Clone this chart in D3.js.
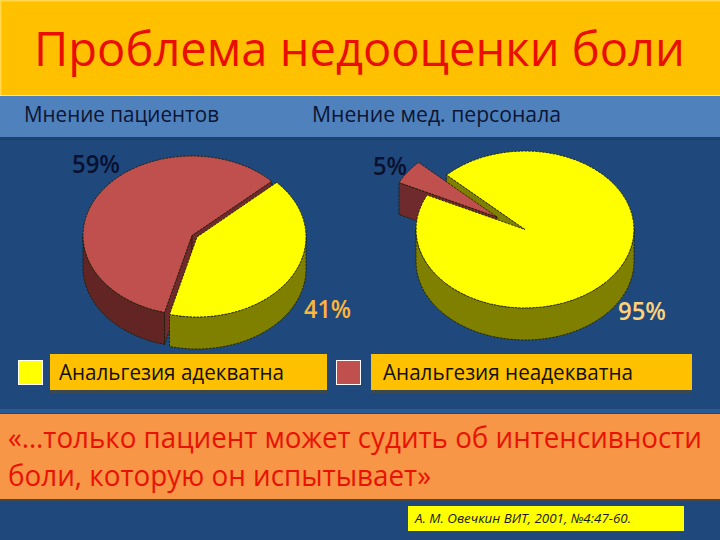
<!DOCTYPE html>
<html><head><meta charset="utf-8">
<script src="https://cdn.jsdelivr.net/npm/d3@7"></script>
<style>html,body{margin:0;padding:0;background:#1f497d}svg{display:block}text{font-family:"Open Sans",Lato,sans-serif}</style>
</head><body><svg id="c" width="720" height="540"></svg>
<script>
const title = "Проблема недооценки боли";
const groups = ["Мнение пациентов", "Мнение мед. персонала"];
const categories = ["Анальгезия адекватна", "Анальгезия неадекватна"];
const patients = [41, 59];
const staff = [95, 5];
const quoteLines = ["«…только пациент может судить об интенсивности", "боли, которую он испытывает»"];
const source = "А. М. Овечкин  ВИТ, 2001, №4:47-60.";

const topColor = d3.scaleOrdinal().domain(categories).range(["#ffff00", "#c0504d"]);
const sideColor = d3.scaleOrdinal().domain(categories).range(["#808000", "#632523"]);
const faceColor = d3.scaleOrdinal().domain(categories).range(["#808000", "#6e2a2c"]);

const svg = d3.select("#c");
const rect = (x, y, w, h, fill) => svg.append("rect").attr("x", x).attr("y", y).attr("width", w).attr("height", h).attr("fill", fill);
const text = (s, x, y, size, fill, extra = {}) => {
  const t = svg.append("text").attr("x", x).attr("y", y).attr("font-size", size).attr("fill", fill).text(s);
  Object.entries(extra).forEach(([k, v]) => t.attr(k, v));
  return t;
};
const fit = (w) => ({ textLength: w, lengthAdjust: "spacingAndGlyphs" });

rect(0, 0, 720, 540, "#1f497d");
rect(0, 0, 720, 96, "#ffc000");
rect(0, 0, 720, 1.5, "#ffd84d");
rect(0, 0, 1.5, 96, "#ffd84d");
rect(0, 95, 720, 1.5, "#ffe680");
rect(0, 96, 720, 41, "#4f81bd");
rect(0, 137, 720, 3, "#1c4272");

text(title, 34, 66, 48, "#e90e00", fit(651));
text(groups[0], 24, 122, 21, "#0b1533", fit(195));
text(groups[1], 312, 122, 21, "#0b1533", fit(249));

const depth = 32, rx = 109;
const pie = (start) => d3.pie().sort(null).startAngle(start).endAngle(start + 2 * Math.PI);
const line = d3.line();
const stroke = { c: "#1a1a00", w: 0.8, d: "2.5 1" };

function drawPie(values, startDeg, geom, order) {
  const arcs = pie(startDeg * Math.PI / 180)(values);
  const at = (i, a, dy = 0) => {
    const g = geom[i];
    return [g.cx + rx * Math.sin(a), g.cy + dy - g.ry * Math.cos(a)];
  };
  const samples = (a0, a1) => d3.range(0, 61).map(k => a0 + (a1 - a0) * k / 60);
  const paint = (d, fill, outlined = true) => {
    const p = svg.append("path").attr("d", d).attr("fill", fill);
    if (outlined) p.attr("stroke", stroke.c).attr("stroke-width", stroke.w).attr("stroke-dasharray", stroke.d);
    return p;
  };
  const wall = (i) => {
    const s = arcs[i], name = categories[i];
    const norm = 2 * Math.PI;
    for (const shift of [-norm, 0, norm]) {
      const a0 = Math.max(s.startAngle, Math.PI / 2 + shift);
      const a1 = Math.min(s.endAngle, 3 * Math.PI / 2 + shift);
      if (a1 > a0) {
        const up = samples(a0, a1).map(a => at(i, a));
        const dn = samples(a0, a1).reverse().map(a => at(i, a, depth));
        paint(line([...up, ...dn]) + "Z", sideColor(name));
      }
    }
  };
  const face = (i, a) => {
    const g = geom[i];
    paint(line([[g.cx, g.cy], at(i, a), at(i, a, depth), [g.cx, g.cy + depth]]) + "Z", faceColor(categories[i]));
  };
  const top = (i) => {
    const g = geom[i], s = arcs[i];
    paint(line([[g.cx, g.cy], ...samples(s.startAngle, s.endAngle).map(a => at(i, a))]) + "Z", topColor(categories[i]));
  };
  order({ wall, face, top, arcs });
}

drawPie(patients, 47, [{ cx: 197, cy: 237, ry: 80 }, { cx: 192, cy: 235.5, ry: 79.5 }], ({ wall, face, top, arcs }) => {
  wall(1);
  face(1, arcs[1].startAngle);
  face(1, arcs[1].endAngle);
  top(1);
  wall(0);
  top(0);
});

drawPie(staff, 314, [{ cx: 525, cy: 229.5, ry: 78.5 }, { cx: 497, cy: 217, ry: 78.5 }], ({ wall, face, top, arcs }) => {
  wall(0);
  face(0, arcs[0].startAngle);
  face(1, arcs[1].startAngle);
  top(1);
  top(0);
});

const pct = v => v + "%";
const bold = { "font-weight": 600 };
text(pct(patients[1]), 72, 173, 25, "#0a1030", { ...bold, ...fit(48) });
text(pct(staff[1]), 373, 175, 25, "#0a1030", { ...bold, ...fit(34) });
text(pct(patients[0]), 304, 318, 25, "#fdb53a", { ...bold, ...fit(47) });
text(pct(staff[0]), 618, 320, 25, "#ffd27a", { ...bold, ...fit(48) });

rect(50, 356, 277, 37, "#3a4a50");
rect(50, 354, 277, 36, "#ffc000");
rect(371, 356, 321, 37, "#3a4a50");
rect(371, 354, 321, 36, "#ffc000");
svg.append("rect").attr("x", 18.5).attr("y", 360.5).attr("width", 24).attr("height", 24).attr("fill", topColor(categories[0])).attr("stroke", "#fff");
svg.append("rect").attr("x", 336.5).attr("y", 360.5).attr("width", 24).attr("height", 24).attr("fill", topColor(categories[1])).attr("stroke", "#fff");
text(categories[0], 59, 380, 21, "#10100a", fit(225));
text(categories[1], 383, 380, 21, "#10100a", fit(250));

rect(0, 409, 720, 4, "#2a5a96");
rect(0, 414, 720, 85, "#f79646");
rect(0, 499, 720, 2, "#3f4a50");
text(quoteLines[0], 8, 448, 28.5, "#e91200", fit(694));
text(quoteLines[1], 8, 486, 28.5, "#e91200", fit(423));

rect(408, 506, 276, 25, "#ffff00");
text(source, 415, 523, 13, "#1a1a1a", { "font-style": "italic", ...fit(216) });
</script></body></html>
